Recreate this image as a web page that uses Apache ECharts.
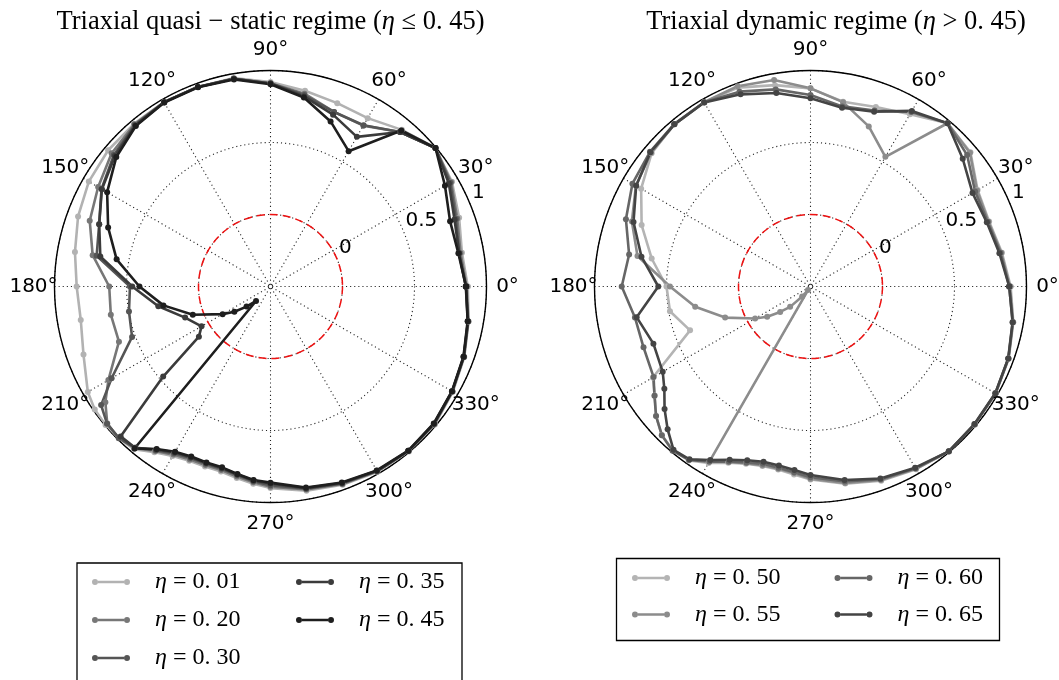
<!DOCTYPE html>
<html>
<head>
<meta charset="utf-8">
<script src="https://cdn.jsdelivr.net/npm/echarts@6/dist/echarts.min.js"></script>
<style>
  html, body { margin: 0; padding: 0; background: #fff; }
  #chart { width: 1059px; height: 680px; }
</style>
</head>
<body>
<div id="chart"></div>
<script>
// Sampling angles (degrees): 10° steps, 5° steps between 210° and 270°
const angleDeg = [0,10,20,30,40,50,60,70,80,90,100,110,120,130,140,150,160,170,180,190,200,210,
  215,220,225,230,235,240,245,250,255,260,265,270,280,290,300,310,320,330,340,350];

// Quasi-static regime
const eta001 = [0.87,0.85,0.894,0.955,0.995,0.92,0.85,0.855,0.88,0.92,0.97,0.975,0.98,0.975,0.972,0.957,0.922,0.879,0.846,0.838,0.882,0.965,
  0.99,0.995,0.99,0.975,0.905,0.86,0.835,0.83,0.83,0.85,0.875,0.9,0.94,0.965,0.985,0.995,0.99,0.962,0.932,0.897];
const eta020 = [0.862,0.84,0.88,0.948,0.995,0.9,0.79,0.79,0.86,0.912,0.965,0.975,0.978,0.97,0.94,0.882,0.836,0.754,0.62,0.626,0.62,0.8,
  0.9,0.98,0.99,0.965,0.895,0.848,0.825,0.82,0.82,0.84,0.865,0.89,0.932,0.96,0.982,0.992,0.986,0.958,0.93,0.895];
const eta030 = [0.858,0.83,0.87,0.94,0.995,0.9,0.793,0.79,0.85,0.91,0.965,0.975,0.978,0.965,0.92,0.855,0.766,0.726,0.476,0.498,0.523,0.774,
  0.936,0.982,0.988,0.962,0.888,0.838,0.815,0.81,0.81,0.83,0.858,0.88,0.926,0.955,0.98,0.99,0.984,0.957,0.928,0.893];
const eta035 = [0.856,0.83,0.86,0.93,0.995,0.9,0.7,0.77,0.84,0.91,0.965,0.975,0.978,0.96,0.91,0.852,0.766,0.7,0.46,0.291,0.131,0.053,
  0.107,0.473,0.972,0.962,0.882,0.83,0.808,0.805,0.805,0.826,0.853,0.868,0.922,0.952,0.978,0.99,0.982,0.956,0.928,0.892];
const eta045 = [0.858,0.825,0.827,0.899,0.996,0.914,0.585,0.72,0.833,0.905,0.96,0.972,0.975,0.955,0.898,0.81,0.7,0.585,0.41,0.255,0.074,-0.116,
  -0.194,-0.283,-0.358,0.969,0.878,0.825,0.802,0.801,0.8,0.822,0.849,0.862,0.918,0.948,0.975,0.988,0.98,0.955,0.926,0.89];

// Dynamic regime
const eta050 = [0.89,0.85,0.82,0.84,0.95,0.98,0.882,0.827,0.803,0.876,0.92,0.97,0.978,0.972,0.94,0.858,0.748,0.62,0.5,0.491,0.39,0.764,
  0.82,0.9,0.96,0.985,0.975,0.915,0.85,0.81,0.79,0.79,0.81,0.84,0.89,0.935,0.965,0.995,0.99,0.985,0.965,0.93];
const eta055 = [0.885,0.845,0.815,0.835,0.945,0.98,0.54,0.683,0.8,0.876,0.956,0.98,0.978,0.97,0.945,0.9,0.82,0.72,0.476,0.313,0.131,-0.056,
  -0.133,-0.225,-0.3,-0.41,-0.47,0.9,0.845,0.805,0.785,0.785,0.8,0.835,0.885,0.93,0.962,0.995,0.99,0.984,0.963,0.928];
const eta060 = [0.88,0.84,0.81,0.82,0.92,0.98,0.9,0.8,0.77,0.83,0.89,0.94,0.978,0.973,0.955,0.928,0.864,0.779,0.811,0.738,0.734,0.758,
  0.823,0.9,0.96,0.99,0.97,0.905,0.84,0.8,0.775,0.778,0.795,0.825,0.875,0.925,0.958,0.994,0.988,0.983,0.962,0.926];
const eta065 = [0.88,0.832,0.803,0.799,0.88,0.98,0.908,0.792,0.761,0.807,0.864,0.92,0.975,0.97,0.951,0.898,0.808,0.692,0.557,0.726,0.661,0.685,
  0.739,0.823,0.903,0.98,0.965,0.892,0.828,0.784,0.76,0.763,0.779,0.809,0.865,0.919,0.953,0.994,0.986,0.982,0.961,0.925];

const radiusTicks = [-0.5, 0, 0.5, 1];
const angleTicks = [0, 30, 60, 90, 120, 150, 180, 210, 240, 270, 300, 330];
const radiusLabelAngle = 22.5;

const leftSeries = [
  { name: '0.01', values: eta001, color: '#b2b2b2' },
  { name: '0.20', values: eta020, color: '#777777' },
  { name: '0.30', values: eta030, color: '#555555' },
  { name: '0.35', values: eta035, color: '#3b3b3b' },
  { name: '0.45', values: eta045, color: '#1e1e1e' }
];
const rightSeries = [
  { name: '0.50', values: eta050, color: '#b4b4b4' },
  { name: '0.55', values: eta055, color: '#8c8c8c' },
  { name: '0.60', values: eta060, color: '#666666' },
  { name: '0.65', values: eta065, color: '#444444' }
];

const R = 216;
const rMin = radiusTicks[0], rMax = radiusTicks[radiusTicks.length - 1];
const zeroRingR = R * (0 - rMin) / (rMax - rMin);
const centers = [[270.5, 286.5], [810.5, 286.5]];

const serif = 'Liberation Serif';
const sans = 'DejaVu Sans';
const dotted = { color: '#222', width: 1.1, type: [1.1, 3] };

const polar = [], angleAxis = [], radiusAxis = [];
const mainPolarIndex = [];
centers.forEach(c => {
  // data axes
  polar.push({ center: c, radius: R });
  mainPolarIndex.push(polar.length - 1);
  angleAxis.push({
    polarIndex: polar.length - 1, type: 'value', min: 0, max: 360, interval: 30,
    startAngle: 0, clockwise: false,
    axisLine: { show: true, lineStyle: { color: '#000', width: 1.4 } },
    axisTick: { show: false }, axisLabel: { show: false },
    splitLine: { show: true, lineStyle: dotted }
  });
  radiusAxis.push({
    polarIndex: polar.length - 1, type: 'value', min: rMin, max: rMax, interval: 0.5,
    axisLine: { show: false }, axisTick: { show: false }, axisLabel: { show: false },
    splitLine: { show: true, lineStyle: dotted }
  });
  // dashed reference ring at radius value 0
  polar.push({ center: c, radius: zeroRingR });
  angleAxis.push({
    polarIndex: polar.length - 1, type: 'value', min: 0, max: 360, startAngle: 0,
    axisLine: { show: true, lineStyle: { color: '#ee1111', width: 1.5, type: [8, 5] } },
    axisTick: { show: false }, axisLabel: { show: false }, splitLine: { show: false }
  });
  radiusAxis.push({ polarIndex: polar.length - 1, type: 'value', min: rMin, max: 0, show: false });
});

function buildSeries(list, polarIndex) {
  return list.map(s => {
    const pts = angleDeg.map((a, i) => [s.values[i], a]);
    pts.push([s.values[0], 360]);
    return {
      type: 'line', name: s.name, coordinateSystem: 'polar', polarIndex,
      data: pts, symbol: 'circle', symbolSize: 6, showSymbol: true,
      lineStyle: { color: s.color, width: 2.6 },
      itemStyle: { color: s.color },
      z: 3
    };
  });
}

const legendIcon = 'path://M6,2.7 L32,2.7 L32,5.3 L6,5.3 Z M0,4 A3,3 0 1,0 6,4 A3,3 0 1,0 0,4 Z M32,4 A3,3 0 1,0 38,4 A3,3 0 1,0 32,4 Z';
const legendRich = {
  g: { width: 20, lineHeight: 20 },
  e: { fontFamily: serif, fontStyle: 'italic', fontSize: 24, lineHeight: 20, color: '#000' },
  t: { fontFamily: serif, fontSize: 24, lineHeight: 20, color: '#000' }
};
function legendBlock(names, left, top, height, gap) {
  return {
    data: names, orient: 'vertical', left, top, height, itemGap: gap,
    itemWidth: 38, itemHeight: 8, icon: legendIcon, padding: 0,
    formatter: n => '{g|}{e|η}{t| = ' + n.replace('.', '. ') + '}',
    textStyle: { width: 147, lineHeight: 20, fontSize: 24, fontFamily: serif, rich: legendRich }
  };
}

const titleStyle = {
  fontFamily: serif, fontSize: 26.5, fontWeight: 'normal', color: '#000',
  rich: { e: { fontFamily: serif, fontStyle: 'italic', fontSize: 26.5, color: '#000' } }
};

const frames = [
  { type: 'rect', shape: { x: 77, y: 563, width: 385, height: 130 }, style: { fill: 'none', stroke: '#000', lineWidth: 1.3 }, z: 0 },
  { type: 'rect', shape: { x: 616.5, y: 558.5, width: 383, height: 82 }, style: { fill: 'none', stroke: '#000', lineWidth: 1.3 }, z: 0 }
];

const option = {
  animation: false,
  backgroundColor: '#fff',
  title: [
    { text: 'Triaxial quasi − static regime ({e|η} ≤ 0. 45)', left: 265.5, top: 4, textAlign: 'center', textStyle: titleStyle },
    { text: 'Triaxial dynamic regime ({e|η} > 0. 45)', left: 831, top: 4, textAlign: 'center', textStyle: titleStyle }
  ],
  polar, angleAxis, radiusAxis,
  legend: [
    legendBlock(leftSeries.map(s => s.name), 92, 570, 115, 14),
    legendBlock(rightSeries.map(s => s.name), 632, 566, 75, 12.5)
  ],
  graphic: frames,
  series: [].concat(buildSeries(leftSeries, mainPolarIndex[0]), buildSeries(rightSeries, mainPolarIndex[1]))
};

const chart = echarts.init(document.getElementById('chart'), null, { renderer: 'canvas' });
chart.setOption(option);

// Tick labels placed through each polar's own scales
const angleLabelRadius = 237; // px from the centre, label centre
const texts = [];
mainPolarIndex.forEach(pi => {
  const finder = { polarIndex: pi };
  angleTicks.forEach(a => {
    const c = chart.convertToPixel(finder, [rMin, a]);
    const e = chart.convertToPixel(finder, [rMax, a]);
    const k = angleLabelRadius / R;
    texts.push({
      type: 'text', x: c[0] + (e[0] - c[0]) * k, y: c[1] + (e[1] - c[1]) * k, z: 5,
      style: { text: a + '°', align: 'center', verticalAlign: 'middle', font: '20px "' + sans + '"', fill: '#000' }
    });
  });
  radiusTicks.slice(1).forEach(v => {
    const p = chart.convertToPixel(finder, [v, radiusLabelAngle]);
    texts.push({
      type: 'text', x: p[0] + 2, y: p[1] - 11, z: 5,
      style: { text: String(v), align: 'left', verticalAlign: 'middle', font: '20px "' + sans + '"', fill: '#000' }
    });
  });
});
chart.setOption({ graphic: frames.concat(texts) });
</script>
</body>
</html>
